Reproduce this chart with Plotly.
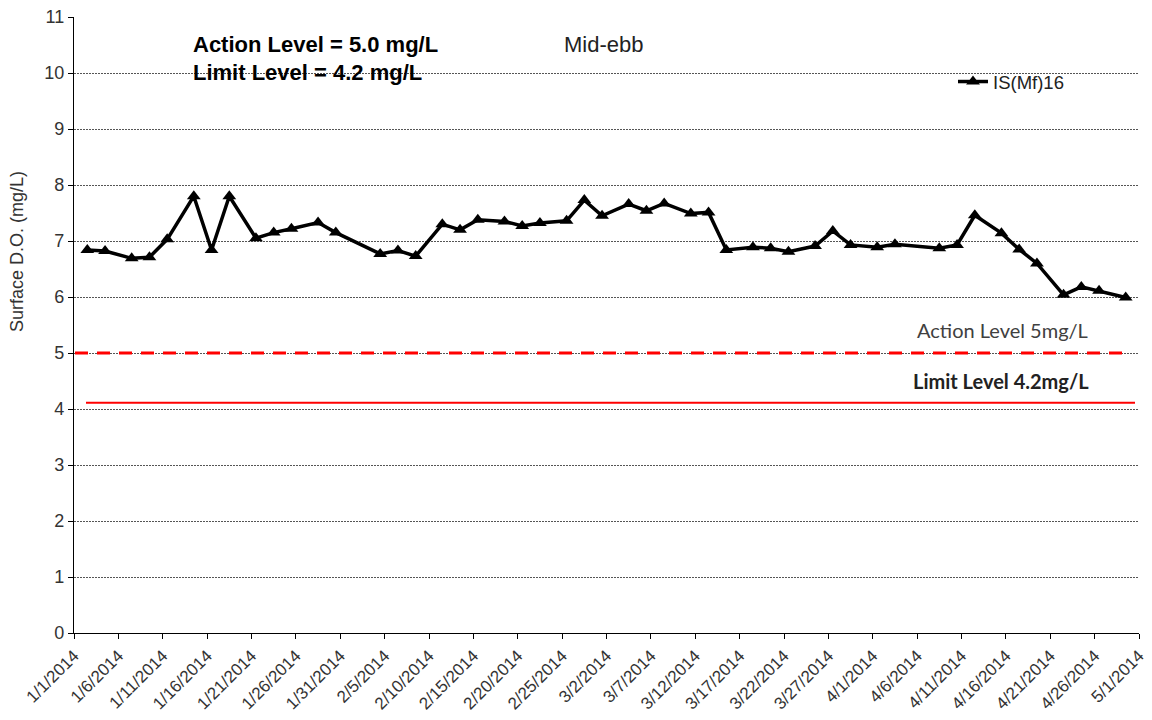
import plotly.graph_objects as go
import pandas as pd

# ---- data ----
dates = ["2014-01-02", "2014-01-04", "2014-01-07", "2014-01-09", "2014-01-11", "2014-01-14",
         "2014-01-16", "2014-01-18", "2014-01-21", "2014-01-23", "2014-01-25", "2014-01-28",
         "2014-01-30", "2014-02-04", "2014-02-06", "2014-02-08", "2014-02-11", "2014-02-13",
         "2014-02-15", "2014-02-18", "2014-02-20", "2014-02-22", "2014-02-25", "2014-02-27",
         "2014-03-01", "2014-03-04", "2014-03-06", "2014-03-08", "2014-03-11", "2014-03-13",
         "2014-03-15", "2014-03-18", "2014-03-20", "2014-03-22", "2014-03-25", "2014-03-27",
         "2014-03-29", "2014-04-01", "2014-04-03", "2014-04-08", "2014-04-10", "2014-04-12",
         "2014-04-15", "2014-04-17", "2014-04-19", "2014-04-22", "2014-04-24", "2014-04-26",
         "2014-04-29"]
do_values = [6.84, 6.82, 6.69, 6.71, 7.03, 7.80,
             6.84, 7.80, 7.05, 7.15, 7.22, 7.33,
             7.15, 6.77, 6.83, 6.73, 7.30, 7.20,
             7.38, 7.35, 7.27, 7.32, 7.36, 7.73,
             7.45, 7.66, 7.54, 7.67, 7.49, 7.51,
             6.84, 6.89, 6.87, 6.81, 6.91, 7.18,
             6.93, 6.89, 6.94, 6.87, 6.93, 7.46,
             7.14, 6.85, 6.60, 6.04, 6.18, 6.11,
             5.99]
series_name = "IS(Mf)16"
action_level = 5.0
limit_level_drawn = 4.11
y_ticks = list(range(0, 12))
x_start, x_end = "2014-01-01", "2014-05-01"

# ---- layout helpers (pixel -> paper) ----
W, H = 1152, 720
L, R, T, B = 74, 13, 17, 87
PW, PH = W - L - R, H - T - B


def xp(px):
    return (px - L) / PW


def yp(py):
    return (H - B - py) / PH


# Excel date axis places points in the middle of each day slot
x_vals = pd.to_datetime(dates) + pd.Timedelta(hours=12)

fig = go.Figure()
fig.add_trace(go.Scatter(
    x=x_vals, y=do_values, name=series_name, mode="lines+markers",
    line=dict(color="black", width=3.5),
    marker=dict(symbol="triangle-up", size=12, color="black"),
))

X_FONT = dict(family="Liberation Sans, Arial", size=17, color="#333333")
Y_FONT = dict(family="Liberation Sans, Arial", size=18, color="#333333")

fig.update_layout(
    width=W, height=H,
    margin=dict(l=L, r=R, t=T, b=B, autoexpand=False),
    plot_bgcolor="white", paper_bgcolor="white",
    showlegend=True,
    legend=dict(x=xp(953), y=yp(82), xanchor="left", yanchor="middle",
                bgcolor="rgba(0,0,0,0)", borderwidth=0,
                font=dict(family="Liberation Sans, Arial", size=18.5, color="#222222")),
    xaxis=dict(
        type="date", range=[x_start, x_end], automargin=False,
        tick0=x_start, dtick=5 * 86400000, tickformat="%-m/%-d/%Y",
        tickangle=-45, ticks="outside", ticklen=5, tickcolor="black",
        showline=True, linecolor="black", linewidth=1.3,
        showgrid=False, zeroline=False, tickfont=X_FONT,
    ),
    yaxis=dict(
        range=[0, 11], tickvals=y_ticks, automargin=False,
        ticks="outside", ticklen=5, tickcolor="black",
        showline=True, linecolor="black", linewidth=1.3,
        showgrid=True, gridcolor="#555555", gridwidth=1, griddash="2px,1px",
        zeroline=False, tickfont=Y_FONT,
    ),
)

# white gaps in gridline 10 behind text and legend
for x0, x1 in [(185, 502), (892, 1109)]:
    fig.add_shape(type="rect", xref="paper", yref="y", x0=xp(x0), x1=xp(x1),
                  y0=9.6, y1=10.4, fillcolor="white", line=dict(width=0), layer="between")

# action level (dashed) and limit level (solid) lines
fig.add_shape(type="line", xref="paper", yref="y", x0=xp(75), x1=xp(1130),
              y0=action_level, y1=action_level,
              line=dict(color="#FF0000", width=3, dash="13px,9px"), layer="above")
fig.add_shape(type="line", xref="paper", yref="y", x0=xp(86), x1=xp(1135),
              y0=limit_level_drawn, y1=limit_level_drawn,
              line=dict(color="#FF0000", width=2), layer="above")

ann = []
ann.append(dict(text="<b>Action Level = 5.0 mg/L</b>", x=xp(191), y=yp(45),
                xanchor="left", yanchor="middle",
                font=dict(family="Liberation Sans, Arial", size=22, color="black")))
ann.append(dict(text="<b>Limit Level = 4.2 mg/L</b>", x=xp(191), y=yp(72),
                xanchor="left", yanchor="middle",
                font=dict(family="Liberation Sans, Arial", size=22, color="black")))
ann.append(dict(text="Mid-ebb", x=xp(603), y=yp(45), xanchor="center", yanchor="middle",
                font=dict(family="Liberation Sans, Arial", size=22, color="#222222")))
ann.append(dict(text="Action Level 5mg/L", x=xp(1002), y=yp(330), xanchor="center", yanchor="middle",
                font=dict(family="Lato", size=20, color="#404040")))
ann.append(dict(text="<b>Limit Level 4.2mg/L</b>", x=xp(1001), y=yp(381), xanchor="center", yanchor="middle",
                font=dict(family="Lato", size=20, color="#222222")))
ann.append(dict(text="Surface D.O. (mg/L)", x=xp(17), y=yp(252), xanchor="center", yanchor="middle",
                textangle=-90,
                font=dict(family="Liberation Sans, Arial", size=18, color="#333333")))
for a in ann:
    a.update(xref="paper", yref="paper", showarrow=False)
fig.update_layout(annotations=ann)

fig.write_html("out.html", config={"displayModeBar": False},
               post_script="document.body.style.margin='0';document.body.style.overflow='hidden';")
